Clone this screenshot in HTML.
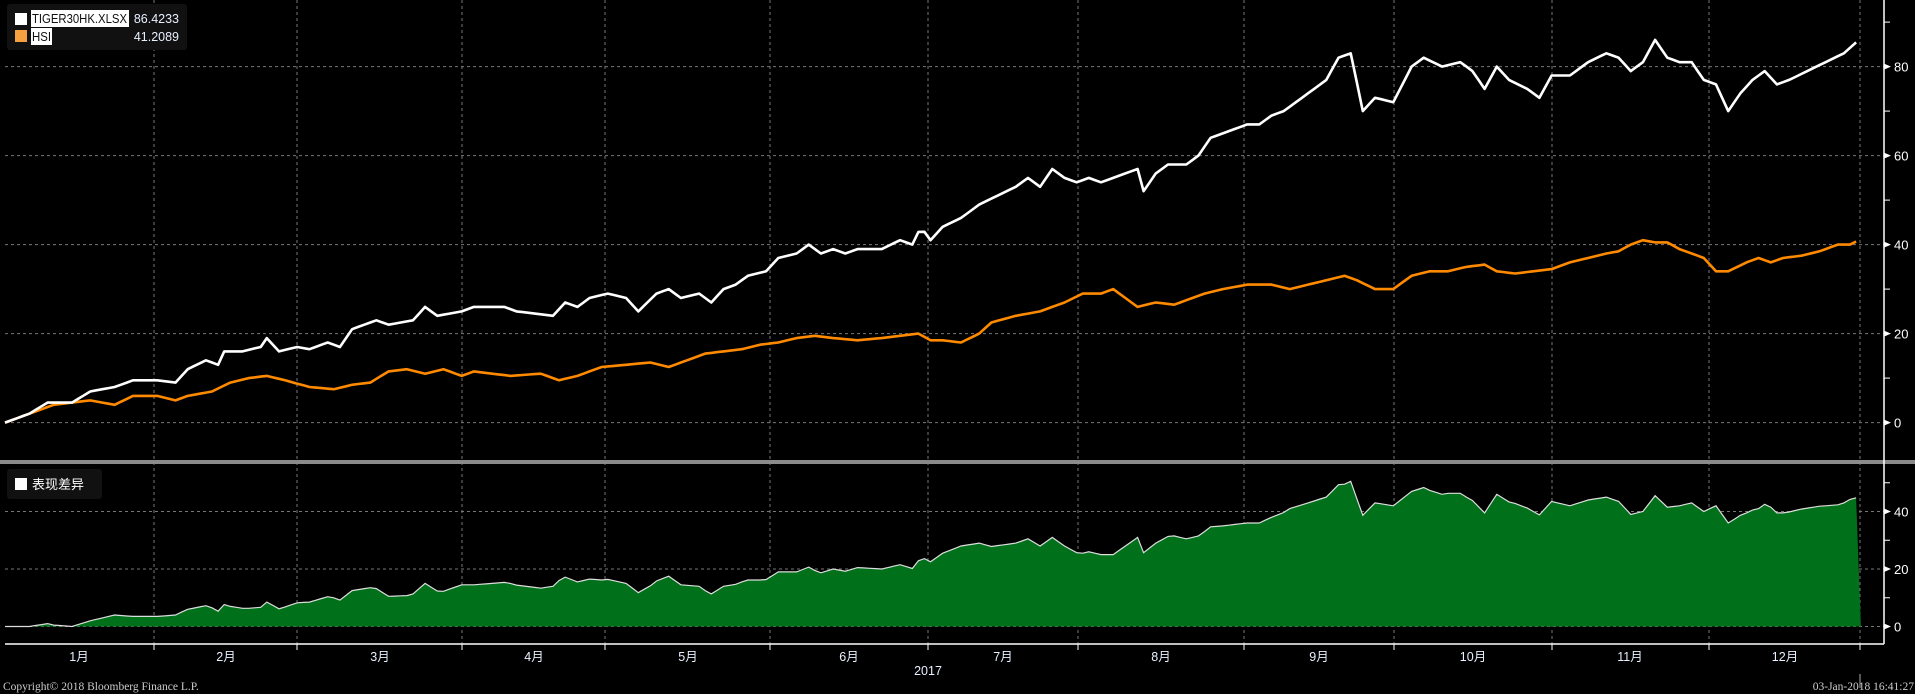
<!DOCTYPE html>
<html><head><meta charset="utf-8"><style>
html,body{margin:0;padding:0;background:#000;width:1915px;height:694px;overflow:hidden}
svg{display:block}
text{font-family:"Liberation Sans","Noto Sans CJK SC",sans-serif}
</style></head><body>
<svg id="s" width="1915" height="694" xmlns="http://www.w3.org/2000/svg">
<rect width="1915" height="694" fill="#000"/>
<g id="grid"></g>
<path id="area" fill="#00701a" stroke="none"/>
<path id="dline" fill="none" stroke="#ddd" stroke-width="1.2"/>
<path id="hsi" fill="none" stroke="#ff8a00" stroke-width="2.6" stroke-linejoin="round"/>
<path id="tig" fill="none" stroke="#fff" stroke-width="2.6" stroke-linejoin="round"/>
<rect x="0" y="460" width="1915" height="4" fill="#8a8a8a"/>
<line x1="5" y1="644" x2="1884" y2="644" stroke="#fff" stroke-width="1.5"/>
<line x1="1884" y1="0" x2="1884" y2="644" stroke="#fff" stroke-width="1.5"/>
<g id="axis" fill="#fff" font-size="13"></g>
<rect x="7" y="4" width="180" height="46" rx="3" fill="#111"/>
<rect x="15" y="13" width="12" height="12" fill="#fff"/>
<rect x="31" y="10" width="98" height="17" fill="#fff"/>
<text x="32" y="23" font-size="12.5" fill="#111" textLength="95" lengthAdjust="spacingAndGlyphs">TIGER30HK.XLSX</text>
<text x="179" y="23" font-size="12.5" fill="#e8f0ff" text-anchor="end">86.4233</text>
<rect x="15" y="30" width="12" height="12" fill="#f7a040"/>
<rect x="31" y="28" width="21" height="17" fill="#fff"/>
<text x="32" y="41" font-size="12.5" fill="#111" textLength="19" lengthAdjust="spacingAndGlyphs">HSI</text>
<text x="179" y="41" font-size="12.5" fill="#e8f0ff" text-anchor="end">41.2089</text>
<rect x="7" y="469" width="95" height="30" rx="3" fill="#111"/>
<rect x="15" y="478" width="12" height="12" fill="#fff"/>
<text x="32" y="489" font-size="13" fill="#fff">表现差异</text>
<text x="928" y="675" font-size="12.5" fill="#e8f0ff" text-anchor="middle">2017</text>
<text x="3" y="690" font-size="11.5" fill="#ccc" style="font-family:'Liberation Serif',serif">Copyright© 2018 Bloomberg Finance L.P.</text>
<line x1="1860" y1="674" x2="1860" y2="688" stroke="#aaa"/>
<text x="1914" y="690" font-size="11.5" fill="#ccc" text-anchor="end" style="font-family:'Liberation Serif',serif">03-Jan-2018 16:41:27</text>
</svg>
<script>
var W=[[0,0],[20,2],[35,4.5],[45,4.5],[55,4.5],[70,7],[90,8],[105,9.5],[125,9.5],[140,9],[150,12],[165,14],[175,13],[180,16],[195,16],[210,17],[215,19],[225,16],[240,17],[250,16.5],[265,18],[275,17],[285,21],[305,23],[315,22],[335,23],[345,26],[355,24],[375,25],[385,26],[410,26],[420,25],[450,24],[460,27],[470,26],[480,28],[495,29],[510,28],[520,25],[535,29],[545,30],[555,28],[570,29],[580,27],[590,30],[600,31],[610,33],[625,34],[635,37],[650,38],[660,40],[670,38],[680,39],[690,38],[700,39],[720,39],[735,41],[745,40],[752,44],[760,41],[770,44],[785,46],[800,49],[815,51],[830,53],[840,55],[850,53],[860,57],[870,55],[880,54],[890,55],[900,54],[910,55],[920,56],[930,57],[935,52],[945,56],[955,58],[970,58],[980,60],[990,64],[1000,65],[1010,66],[1020,67],[1030,67],[1040,69],[1050,70],[1065,73],[1075,75],[1085,77],[1095,82],[1105,83],[1115,70],[1125,73],[1140,72],[1155,80],[1165,82],[1180,80],[1195,81],[1205,79],[1215,75],[1225,80],[1235,77],[1250,75],[1260,73],[1270,78],[1285,78],[1300,81],[1315,83],[1325,82],[1335,79],[1345,81],[1355,86],[1365,82],[1375,81],[1385,81],[1395,77],[1405,76],[1415,70],[1425,74],[1435,77],[1445,79],[1455,76],[1465,77],[1480,79],[1495,81],[1510,83],[1524,86.4]];
var H=[[0,0],[20,2],[40,4],[55,4.5],[70,5],[90,4],[105,6],[125,6],[140,5],[150,6],[170,7],[185,9],[200,10],[215,10.5],[230,9.5],[250,8],[270,7.5],[285,8.5],[300,9],[315,11.5],[330,12],[345,11],[360,12],[375,10.5],[385,11.5],[400,11],[415,10.5],[440,11],[455,9.5],[470,10.5],[490,12.5],[510,13],[530,13.5],[545,12.5],[560,14],[575,15.5],[590,16],[605,16.5],[620,17.5],[635,18],[650,19],[665,19.5],[680,19],[700,18.5],[720,19],[735,19.5],[750,20],[760,18.5],[770,18.5],[785,18],[800,20],[810,22.5],[830,24],[850,25],[870,27],[885,29],[900,29],[910,30],[920,28],[930,26],[945,27],[960,26.5],[975,28],[985,29],[1000,30],[1020,31],[1040,31],[1055,30],[1070,31],[1085,32],[1100,33],[1110,32],[1125,30],[1140,30],[1155,33],[1170,34],[1185,34],[1200,35],[1215,35.5],[1225,34],[1240,33.5],[1255,34],[1270,34.5],[1285,36],[1300,37],[1315,38],[1325,38.5],[1335,40],[1345,41],[1355,40.5],[1365,40.5],[1375,39],[1385,38],[1395,37],[1405,34],[1415,34],[1430,36],[1440,37],[1450,36],[1460,37],[1475,37.5],[1490,38.5],[1505,40],[1515,40],[1524,41.2]];
function interp(a,x){for(var i=1;i<a.length;i++){if(x<=a[i][0]){var t=(x-a[i-1][0])/(a[i][0]-a[i-1][0]);return a[i-1][1]+t*(a[i][1]-a[i-1][1]);}}return a[a.length-1][1];}
function X(d){return 5+d*1.2178}
function Ym(v){return 422.6-v*4.45}
function Yl(v){return 626.5-v*2.875}
var pw="",ph="",pd="",pa="";
for(var d=0;d<=1524;d+=5){var w=interp(W,d),h=interp(H,d);var x=X(d).toFixed(1);
pw+=(d?"L":"M")+x+","+Ym(w).toFixed(1);ph+=(d?"L":"M")+x+","+Ym(h).toFixed(1);pd+=(d?"L":"M")+x+","+Yl(w-h).toFixed(1);}
document.getElementById("tig").setAttribute("d",pw);
document.getElementById("hsi").setAttribute("d",ph);
document.getElementById("dline").setAttribute("d",pd);
document.getElementById("area").setAttribute("d",pd+"L"+X(1524).toFixed(1)+",626.5L5,626.5Z");
var g="",ticks=[154,297,462,605,770,928,1078,1244,1394,1552,1709,1860];
ticks.forEach(function(t){g+='<line x1="'+t+'" y1="0" x2="'+t+'" y2="644" stroke="#777" stroke-dasharray="3,3" stroke-width="1"/>';g+='<line x1="'+t+'" y1="644" x2="'+t+'" y2="650" stroke="#fff"/>';});
[0,20,40,60,80].forEach(function(v){g+='<line x1="5" y1="'+Ym(v)+'" x2="1884" y2="'+Ym(v)+'" stroke="#777" stroke-dasharray="3,3"/>';});
[0,20,40].forEach(function(v){g+='<line x1="5" y1="'+Yl(v)+'" x2="1884" y2="'+Yl(v)+'" stroke="#777" stroke-dasharray="3,3"/>';});
document.getElementById("grid").innerHTML=g;
var a="";
[0,20,40,60,80].forEach(function(v){var y=Ym(v);a+='<path d="M1884,'+(y-3)+'L1891,'+y+'L1884,'+(y+3)+'Z"/><text x="1894" y="'+(y+5)+'">'+v+'</text>';});
[10,30,50,70,90].forEach(function(v){var y=Ym(v);a+='<line x1="1884" y1="'+y+'" x2="1890" y2="'+y+'" stroke="#fff"/>';});
[0,20,40].forEach(function(v){var y=Yl(v);a+='<path d="M1884,'+(y-3)+'L1891,'+y+'L1884,'+(y+3)+'Z"/><text x="1894" y="'+(y+5)+'">'+v+'</text>';});
[10,30,50].forEach(function(v){var y=Yl(v);a+='<line x1="1884" y1="'+y+'" x2="1890" y2="'+y+'" stroke="#fff"/>';});
var m=["1月","2月","3月","4月","5月","6月","7月","8月","9月","10月","11月","12月"],c=[79,226,380,534,688,849,1003,1161,1319,1473,1630,1785];
m.forEach(function(s,i){a+='<text x="'+c[i]+'" y="661" text-anchor="middle" font-size="12.5" fill="#e8f0ff">'+s+'</text>';});
document.getElementById("axis").innerHTML=a;
</script>
</body></html>
